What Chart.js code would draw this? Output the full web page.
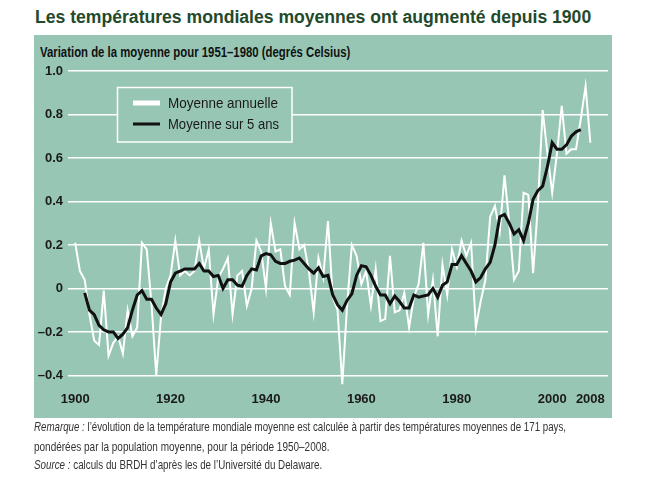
<!DOCTYPE html>
<html lang="fr">
<head>
<meta charset="utf-8">
<script src="https://cdn.jsdelivr.net/npm/chart.js@4.4.1/dist/chart.umd.min.js"></script>
<style>
  html, body { margin: 0; padding: 0; background: #fff; width: 650px; height: 477px; overflow: hidden; }
  .txt { position: absolute; white-space: nowrap; transform-origin: 0 0; display: inline-block; line-height: 1; }
  #titre { left: 35px; top: 7px; font: bold 18px "Liberation Sans", Arial, sans-serif; color: #1f4a2c; }
  #panneau { position: absolute; left: 34px; top: 35px; width: 578px; height: 383px; background: #97c6b5; }
  #soustitre { left: 40px; top: 43px; font: bold 15px "Liberation Sans", Arial, sans-serif; color: #111; }
  .note { left: 34px; font: 13px "Liberation Sans", Arial, sans-serif; color: #333; }
  #graphique { position: absolute; left: 0; top: 0; }
</style>
</head>
<body>
<div id="titre" class="txt">Les températures mondiales moyennes ont augmenté depuis 1900</div>
<div id="panneau"></div>
<div id="soustitre" class="txt">Variation de la moyenne pour 1951–1980 (degrés Celsius)</div>
<canvas id="graphique" width="650" height="477"></canvas>
<div id="n1" class="txt note" style="top:419px"><i>Remarque :</i> l’évolution de la température mondiale moyenne est calculée à partir des températures moyennes de 171 pays,</div>
<div id="n2" class="txt note" style="top:439px">pondérées par la population moyenne, pour la période 1950–2008.</div>
<div id="n3" class="txt note" style="top:457px"><i>Source :</i> calculs du BRDH d’après les de l’Université du Delaware.</div>

<script>
// Données (écart à la moyenne 1951-1980, °C)
const anneeDebut = 1900;
const moyenneAnnuelle = [
  0.21, 0.08, 0.04, -0.12, -0.24, -0.26, -0.01, -0.31, -0.25, -0.22,
  -0.30, -0.10, -0.22, -0.18, 0.21, 0.18, -0.07, -0.40, -0.13, 0.00,
  0.06, 0.22, 0.06, 0.08, 0.06, 0.08, 0.22, 0.09, 0.18, -0.12,
  0.05, 0.09, 0.14, -0.12, 0.06, 0.08, -0.08, 0.00, 0.22, 0.17,
  0.00, 0.30, 0.17, 0.18, 0.01, -0.03, 0.30, 0.18, 0.20, 0.08,
  -0.11, 0.14, 0.05, 0.31, -0.04, -0.10, -0.44, -0.08, 0.20, 0.15,
  0.02, 0.08, -0.08, 0.09, -0.15, -0.14, 0.15, -0.11, -0.10, -0.02,
  -0.18, -0.04, 0.02, 0.21, -0.12, 0.04, -0.22, 0.11, -0.03, 0.18,
  0.10, 0.22, 0.15, 0.21, -0.18, -0.06, 0.04, 0.33, 0.38, 0.26,
  0.52, 0.30, 0.04, 0.08, 0.44, 0.43, 0.07, 0.38, 0.82, 0.62,
  0.44, 0.62, 0.84, 0.62, 0.64, 0.64, 0.78, 0.93, 0.67
];

const debutMoyenne5 = 1902;
const moyenne5ans = [
  -0.02, -0.10, -0.12, -0.17, -0.19, -0.20, -0.20, -0.23,
  -0.21, -0.18, -0.10, -0.03, -0.01, -0.05, -0.05, -0.09, -0.12, -0.07,
  0.03, 0.07, 0.08, 0.09, 0.09, 0.09, 0.115, 0.08, 0.08, 0.055,
  0.06, 0.00, 0.04, 0.04, 0.015, 0.01, 0.06, 0.09, 0.085, 0.15,
  0.16, 0.155, 0.125, 0.115, 0.115, 0.125, 0.13, 0.14, 0.115, 0.09,
  0.07, 0.095, 0.055, 0.06, -0.03, -0.075, -0.10, -0.055, -0.025, 0.06,
  0.105, 0.10, 0.06, 0.01, -0.03, -0.03, -0.07, -0.035, -0.06, -0.09,
  -0.09, -0.03, -0.04, -0.035, -0.03, 0.00, -0.04, 0.015, 0.03, 0.11,
  0.11, 0.15, 0.115, 0.08, 0.03, 0.05, 0.09, 0.12, 0.20, 0.33,
  0.34, 0.30, 0.25, 0.27, 0.22, 0.30, 0.41, 0.45, 0.47, 0.56,
  0.67, 0.64, 0.64, 0.66, 0.70, 0.72, 0.73
];

const graduationsX = [1900, 1920, 1940, 1960, 1980, 2000, 2008];
const graduationsY = [-0.4, -0.2, 0, 0.2, 0.4, 0.6, 0.8, 1.0];

const vert = "#97c6b5";
const policeAxe = { family: '"Liberation Sans", Arial, sans-serif', size: 13, weight: "bold" };

// Ajuste la largeur des textes HTML
function ajuster(id, largeur) {
  const el = document.getElementById(id);
  el.style.transform = "scaleX(" + (largeur / el.scrollWidth) + ")";
}
ajuster("titre", 556);
ajuster("soustitre", 310);
ajuster("n1", 532);
ajuster("n2", 296);
ajuster("n3", 288);

// Légende dessinée dans le cadre
const legende = {
  id: "legende",
  afterDraw(chart) {
    const ctx = chart.ctx;
    ctx.save();
    ctx.fillStyle = vert;
    ctx.fillRect(117, 87, 175, 55);
    ctx.strokeStyle = "#fff";
    ctx.lineWidth = 1.5;
    ctx.strokeRect(117.5, 87.5, 174.5, 54.5);

    const items = [
      { texte: "Moyenne annuelle", couleur: "#fff", epais: 5, y: 103, largeur: 110 },
      { texte: "Moyenne sur 5 ans", couleur: "#111", epais: 3, y: 124, largeur: 111 }
    ];
    items.forEach(it => {
      ctx.strokeStyle = it.couleur;
      ctx.lineWidth = it.epais;
      ctx.beginPath();
      ctx.moveTo(133, it.y);
      ctx.lineTo(160, it.y);
      ctx.stroke();

      ctx.font = '15px "Liberation Sans", Arial, sans-serif';
      ctx.fillStyle = "#1a1a1a";
      ctx.textBaseline = "middle";
      const w = ctx.measureText(it.texte).width;
      ctx.save();
      ctx.translate(168, it.y + 1);
      ctx.scale(it.largeur / w, 1);
      ctx.fillText(it.texte, 0, 0);
      ctx.restore();
    });
    ctx.restore();
  }
};

new Chart(document.getElementById("graphique"), {
  type: "line",
  data: {
    datasets: [
      {
        label: "Moyenne sur 5 ans",
        data: moyenne5ans.map((v, i) => ({ x: debutMoyenne5 + i, y: v })),
        borderColor: "#111",
        borderWidth: 3,
        pointRadius: 0,
        tension: 0,
        order: 1
      },
      {
        label: "Moyenne annuelle",
        data: moyenneAnnuelle.map((v, i) => ({ x: anneeDebut + i, y: v })),
        borderColor: "#fff",
        borderWidth: 2,
        pointRadius: 0,
        tension: 0,
        clip: false,
        order: 2
      }
    ]
  },
  options: {
    responsive: false,
    animation: false,
    devicePixelRatio: 1,
    layout: { padding: { left: 0, right: 42, top: 66.6, bottom: 68.5 } },
    plugins: { legend: { display: false }, tooltip: { enabled: false } },
    scales: {
      x: {
        type: "linear",
        min: 1898.5,
        max: 2011.7,
        grid: { display: false, drawTicks: false },
        border: { display: false },
        afterBuildTicks: s => { s.ticks = graduationsX.map(v => ({ value: v })); },
        afterFit: s => { s.height = 20; },
        ticks: {
          font: policeAxe,
          color: "#1a1a1a",
          padding: 3,
          maxRotation: 0,
          autoSkip: false,
          callback: v => String(v)
        }
      },
      y: {
        min: -0.46,
        max: 1.02,
        grid: { color: "#fff", lineWidth: 1.5, drawTicks: false },
        border: { display: false },
        afterBuildTicks: s => { s.ticks = graduationsY.map(v => ({ value: v })); },
        afterFit: s => { s.width = 68; },
        ticks: {
          font: policeAxe,
          color: "#1a1a1a",
          padding: 5,
          callback: v => (Math.abs(v) < 1e-9 ? "0" : v.toFixed(1).replace("-", "–"))
        }
      }
    }
  },
  plugins: [legende]
});
</script>
</body>
</html>
